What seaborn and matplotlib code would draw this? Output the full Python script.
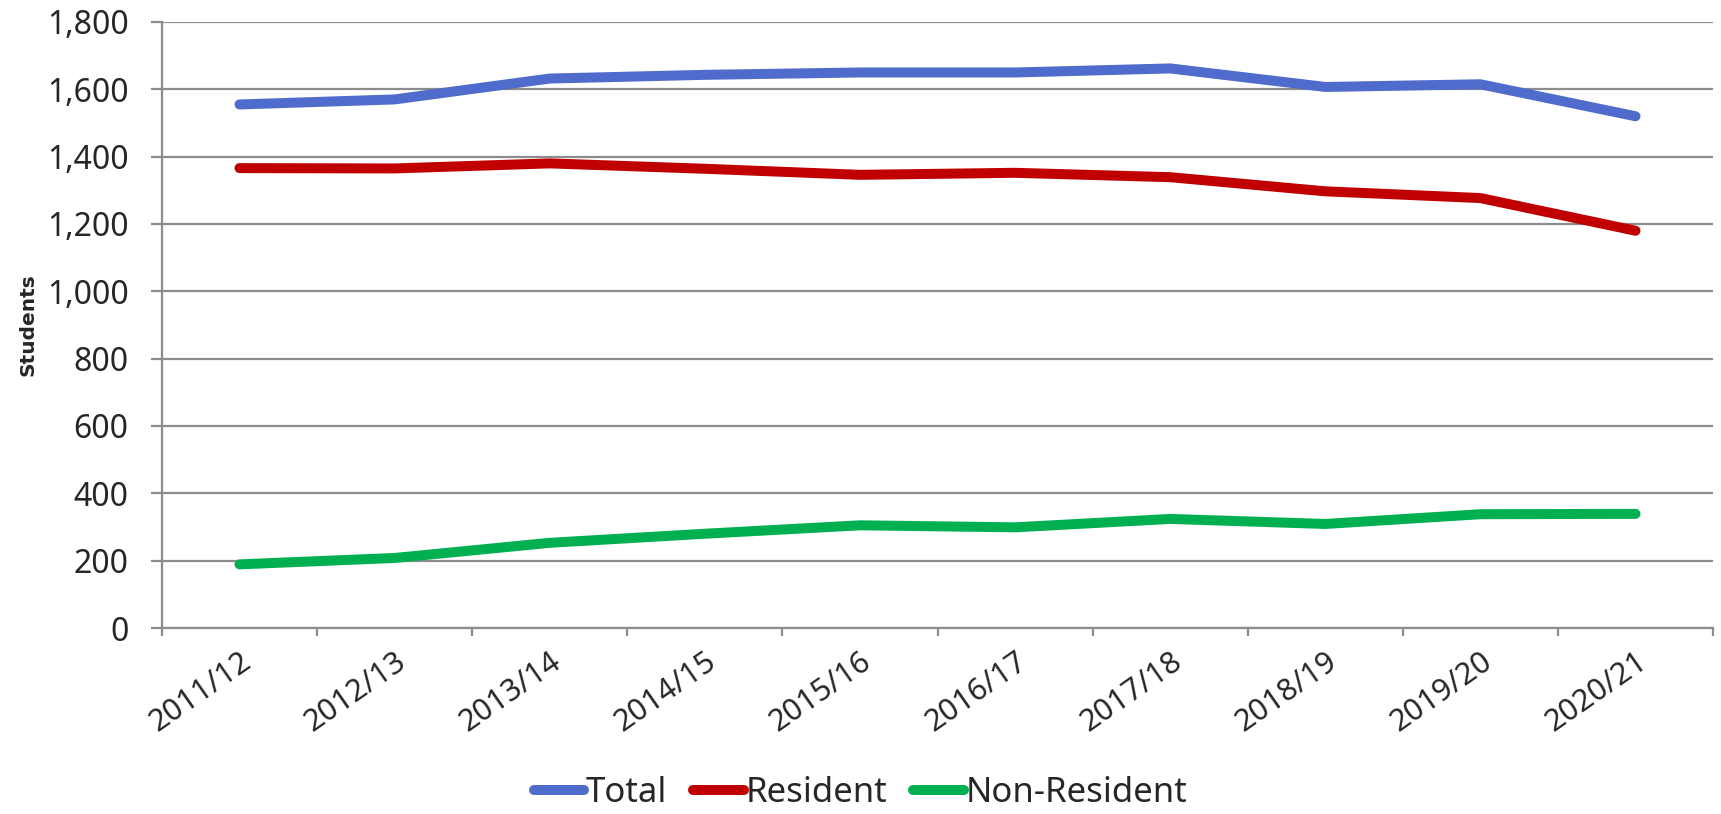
import numpy as np
import pandas as pd
import seaborn as sns
import matplotlib.pyplot as plt
from matplotlib.ticker import FuncFormatter, FixedLocator

# dados
anos = ['2011/12', '2012/13', '2013/14', '2014/15', '2015/16',
        '2016/17', '2017/18', '2018/19', '2019/20', '2020/21']
total = [1555, 1570, 1632, 1643, 1650, 1650, 1662, 1607, 1615, 1520]
residente = [1366, 1365, 1380, 1364, 1346, 1352, 1339, 1297, 1277, 1180]
nao_residente = [189, 208, 253, 280, 305, 299, 324, 309, 338, 339]

series = ['Total', 'Resident', 'Non-Resident']
cores = ['#4F6BCB', '#C00000', '#00B050']

df = pd.DataFrame({
    'ano': anos * 3,
    'x': list(range(len(anos))) * 3,
    'valor': total + residente + nao_residente,
    'serie': ['Total'] * len(anos) + ['Resident'] * len(anos) + ['Non-Resident'] * len(anos),
})

sns.set_style('white')
plt.rcParams['font.family'] = ['Noto Sans', 'DejaVu Sans']

fig = plt.figure(figsize=(17.21, 8.14), dpi=100)
ax = fig.add_axes([0.0941, 0.2285, 0.9013, 0.7445])

sns.lineplot(data=df, x='x', y='valor', hue='serie', hue_order=series,
             palette=cores, linewidth=7.2, ax=ax)
for ln in ax.lines:
    ln.set_solid_capstyle('round')

ax.set_xlim(-0.5, len(anos) - 0.5)
ax.set_ylim(0, 1800)
ax.set_yticks(np.arange(0, 1801, 200))
ax.yaxis.set_major_formatter(FuncFormatter(lambda v, p: f'{int(v):,}'))
ax.grid(axis='y', color='#8C8C8C', linewidth=1.6)
ax.set_axisbelow(True)

# rótulos no centro, marcas de tick nas fronteiras
ax.set_xticks(range(len(anos)))
ax.set_xticklabels(anos, rotation=35, ha='right', rotation_mode='anchor', fontsize=22)
ax.xaxis.set_minor_locator(FixedLocator(np.arange(-0.5, len(anos), 1)))
ax.tick_params(axis='x', which='major', length=0, pad=13)
ax.tick_params(axis='x', which='minor', length=6, width=1.6, color='#8C8C8C', direction='out', bottom=True)
ax.tick_params(axis='y', length=8, width=1.6, color='#8C8C8C', direction='out', left=True, labelsize=23, pad=16)

for s in ['top', 'right']:
    ax.spines[s].set_visible(False)
for s in ['left', 'bottom']:
    ax.spines[s].set_color('#8C8C8C')
    ax.spines[s].set_linewidth(1.6)

ax.set_xlabel('')
ax.set_ylabel('Students', fontsize=14.5, fontweight='bold', family='DejaVu Sans')
ax.yaxis.set_label_coords(-0.0805, 0.5)

ax.get_legend().remove()
handles, labels = ax.get_legend_handles_labels()
for h in handles:
    h.set_solid_capstyle('round')
fig.legend(handles, labels, loc='center', bbox_to_anchor=(0.5, 0.026), ncol=3,
           frameon=False, fontsize=25, handlelength=1.45, handletextpad=0.05,
           columnspacing=0.75, borderaxespad=0)

fig.savefig('out.png', dpi=100)
